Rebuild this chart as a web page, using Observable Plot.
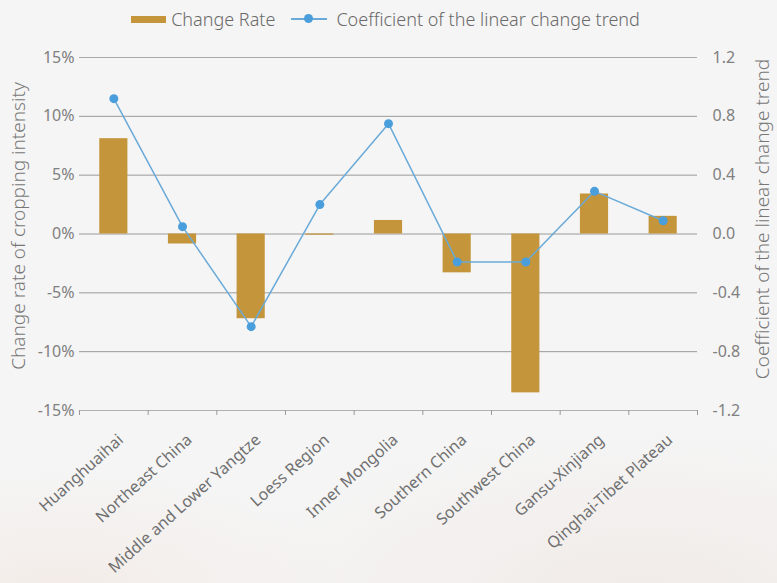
<!DOCTYPE html>
<html>
<head>
<meta charset="utf-8">
<script src="https://cdn.jsdelivr.net/npm/d3@7"></script>
<script src="https://cdn.jsdelivr.net/npm/@observablehq/plot@0.6"></script>
<style>
  html, body { margin: 0; padding: 0; }
  body {
    width: 777px; height: 583px; overflow: hidden; position: relative;
    font-family: "Noto Sans", sans-serif;
    background: radial-gradient(ellipse 420px 160px at 640px 590px, #f1ebe8 0%, rgba(245,245,245,0) 100%),
                radial-gradient(ellipse 300px 120px at 60px 590px, #f3ece8 0%, rgba(245,245,245,0) 100%),
                #f5f5f5;
  }
  #chart { position: absolute; left: 0; top: 0; }
  #legend {
    position: absolute; top: 7px; left: 0; width: 777px;
    display: flex; justify-content: center; align-items: center;
    font-size: 18px; color: #6a6a6a; font-weight: 300;
  }
  .sw-bar { width: 35px; height: 7px; background: #c4953a; margin-right: 5px; margin-left: -6px; }
  .sw-line { position: relative; width: 36px; height: 14px; margin: 0 9px 0 16px; }
  .sw-line::before { content: ""; position: absolute; left: 0; right: 0; top: 6px; height: 1.5px; background: #6aaad8; }
  .sw-line::after { content: ""; position: absolute; left: 13px; top: 2px; width: 9px; height: 9px; border-radius: 50%; background: #4a9edc; }
</style>
</head>
<body>
<div id="chart"></div>
<div id="legend">
  <span class="sw-bar"></span><span>Change Rate</span>
  <span class="sw-line"></span><span>Coefficient of the linear change trend</span>
</div>
<script>
const regions = ["Huanghuaihai", "Northeast China", "Middle and Lower Yangtze", "Loess Region",
  "Inner Mongolia", "Southern China", "Southwest China", "Gansu-Xinjiang", "Qinghai-Tibet Plateau"];
const changeRate = [8.1, -0.85, -7.2, -0.1, 1.15, -3.3, -13.5, 3.4, 1.5];      // %
const coefficient = [0.92, 0.05, -0.63, 0.2, 0.75, -0.19, -0.19, 0.29, 0.09];
const leftTicks = [-15, -10, -5, 0, 5, 10, 15];
const rightTicks = [-1.2, -0.8, -0.4, 0.0, 0.4, 0.8, 1.2];

const ratio = 15 / 1.2; // right axis -> left axis units
const data = regions.map((r, i) => ({region: r, i, rate: changeRate[i], coef: coefficient[i]}));
const boundaries = d3.range(regions.length + 1);
const centers = regions.map((_, i) => i + 0.5);

const plot = Plot.plot({
  width: 777,
  height: 583,
  marginTop: 57,
  marginBottom: 173,
  marginLeft: 79,
  marginRight: 80,
  style: {background: "transparent", fontFamily: "Noto Sans, sans-serif", fontSize: "16px", color: "#7a7a7a"},
  x: {domain: [0, regions.length], axis: null},
  y: {domain: [-15, 15], axis: null},
  marks: [
    Plot.ruleY(leftTicks.filter(d => d !== -15 && d !== 15), {stroke: "#9a9a9a", strokeWidth: 1}),
    Plot.ruleY([15], {stroke: "#aaaaaa", strokeWidth: 1}),
    Plot.ruleY([-15], {stroke: "#b0b0b0", strokeWidth: 1}),
    Plot.rectY(data, {x1: d => d.i + 0.295, x2: d => d.i + 0.705, y1: 0, y2: "rate", fill: "#c4953a"}),
    Plot.line(data, {x: d => d.i + 0.5, y: d => d.coef * ratio, stroke: "#6aaad8", strokeWidth: 1.5}),
    Plot.dot(data, {x: d => d.i + 0.5, y: d => d.coef * ratio, r: 4.5, fill: "#4a9edc", stroke: "none"}),
    Plot.axisX({ticks: boundaries, tickFormat: () => "", tickSize: 5, stroke: "#9a9a9a"}),
    Plot.axisX({ticks: centers, tickSize: 0, tickRotate: -42, tickPadding: 27, dx: 7,
      tickFormat: d => regions[Math.round(d - 0.5)], fontSize: 16, fill: "#707070"}),
    Plot.axisY({anchor: "left", ticks: leftTicks, tickSize: 0, tickPadding: 5, tickFormat: d => `${d}%`,
      fill: "#808080", label: "Change rate of cropping intensity", labelAnchor: "center", labelArrow: "none",
      labelOffset: 68, fontSize: 16}),
    Plot.axisY({anchor: "right", ticks: leftTicks, tickSize: 0, tickPadding: 15,
      tickFormat: d => (d / ratio).toFixed(1),
      fill: "#808080", label: "Coefficient of the linear change trend", labelAnchor: "center", labelArrow: "none",
      labelOffset: 71, fontSize: 16})
  ]
});
// axis titles: size and vertical placement
const titles = plot.querySelectorAll("g[aria-label='y-axis label'] text");
titles.forEach((t, k) => {
  t.setAttribute("font-size", "19");
  t.setAttribute("font-weight", "300");
  t.setAttribute("fill", "#777");
  t.setAttribute("dx", k === 0 ? "8" : "15");
});
document.getElementById("chart").appendChild(plot);
</script>
</body>
</html>
